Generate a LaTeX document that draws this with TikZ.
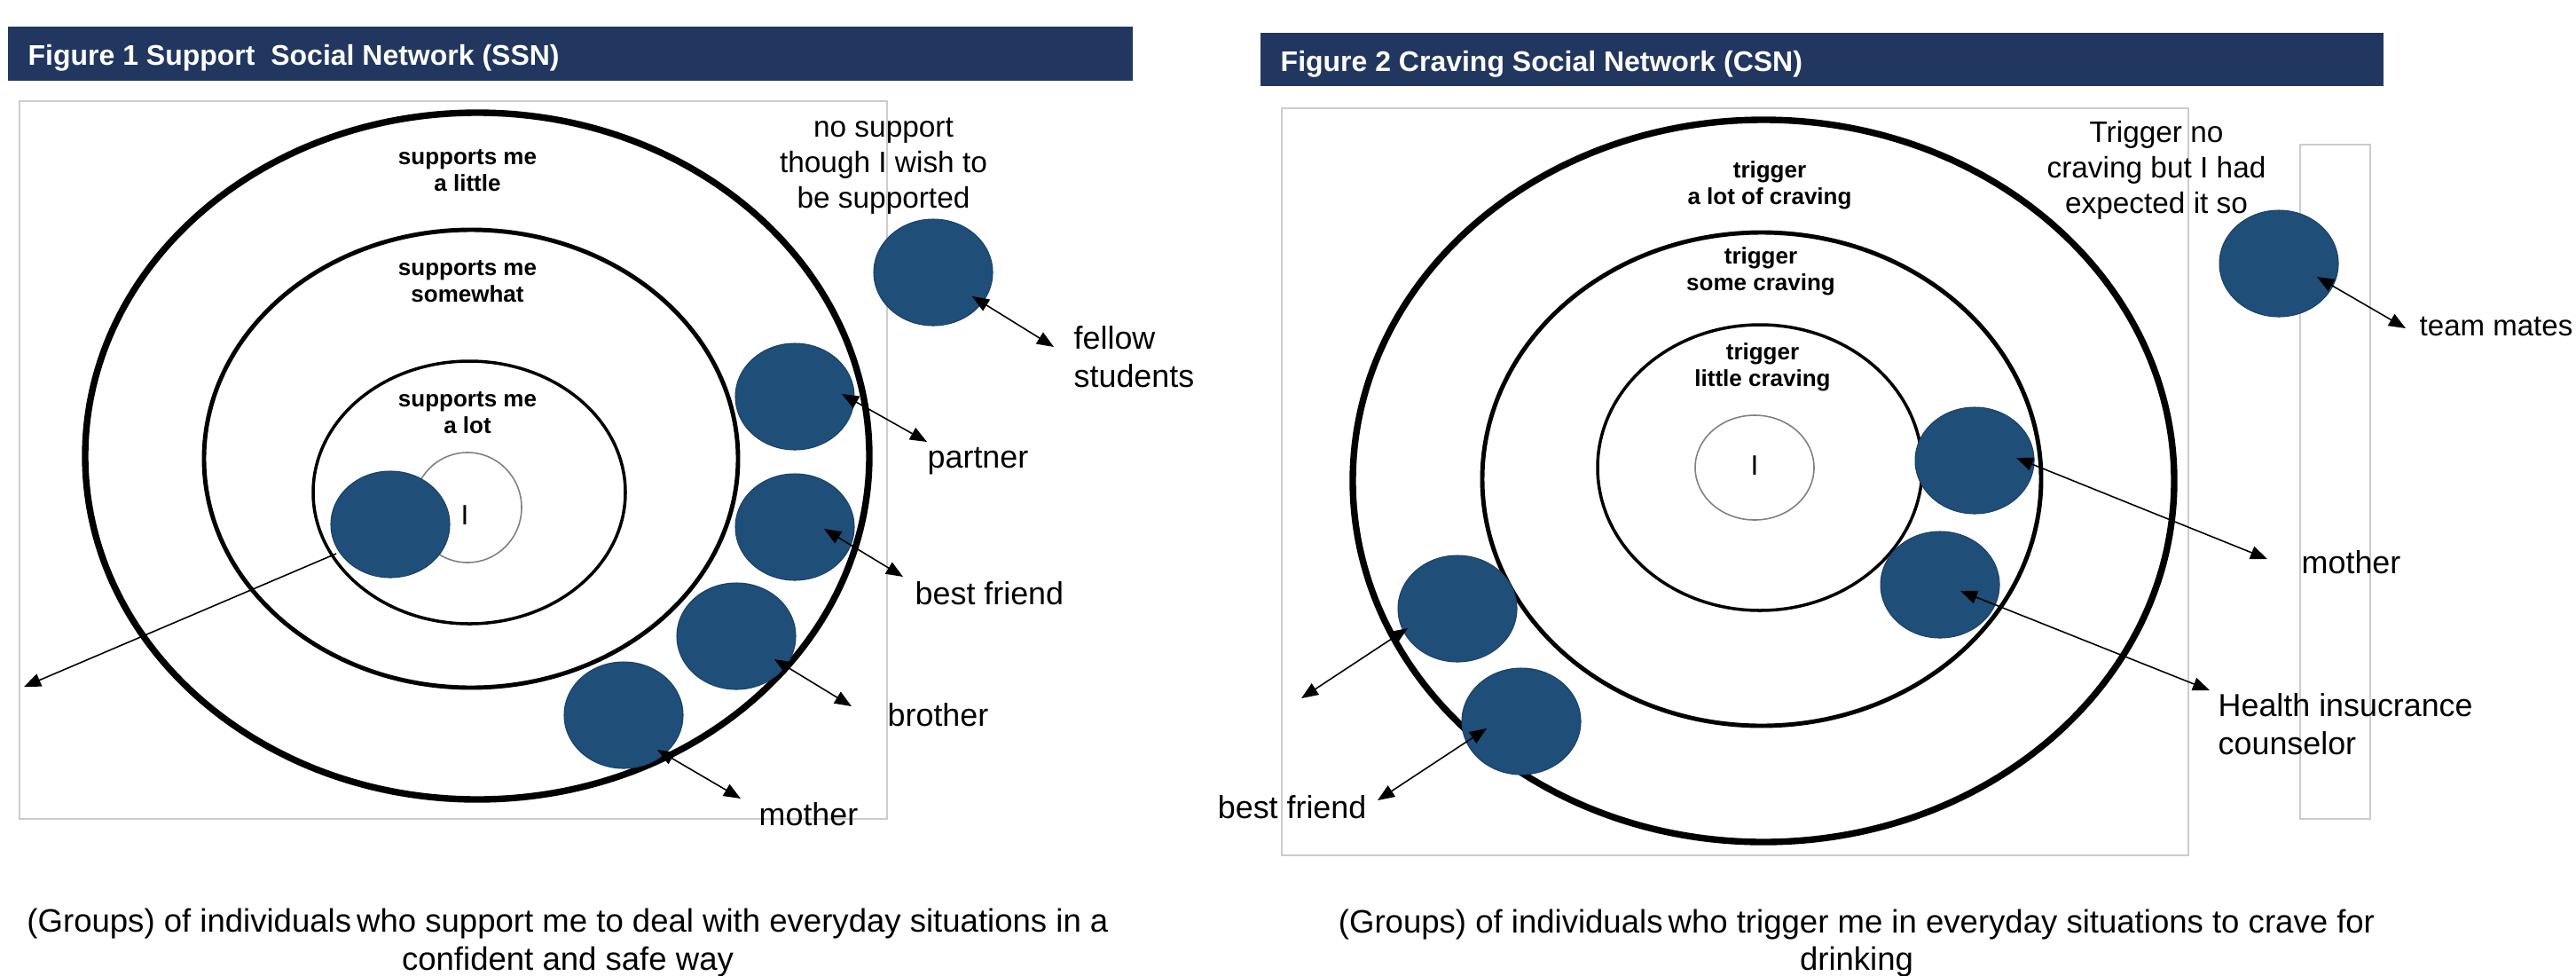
\documentclass[tikz,border=0pt]{standalone}
\usepackage{fontspec}
\setmainfont{Liberation Sans}
\usetikzlibrary{shapes.geometric,arrows.meta}
\definecolor{barblue}{HTML}{22375F}
\definecolor{discblue}{HTML}{1F4E79}

\tikzset{
  disc/.style={ellipse, fill=discblue, draw=discblue!85!black, line width=0.3pt,
    minimum width=1.34cm, minimum height=1.20cm, inner sep=0pt},
  link/.style={line width=0.45pt, >={Triangle[length=1.9mm,width=1.5mm]}},
  lbl/.style={font=\fontsize{10.2}{12.2}\selectfont, inner sep=0pt, align=left},
  note/.style={font=\fontsize{9.5}{11.4}\selectfont, inner sep=0pt, align=center},
  zone/.style={font=\bfseries\fontsize{7.4}{8.6}\selectfont, inner sep=0pt, align=center},
  caption/.style={font=\fontsize{10.4}{12.2}\selectfont, inner sep=0pt, align=center},
  titletext/.style={font=\bfseries\fontsize{9.1}{11}\selectfont, text=white, inner sep=0pt, anchor=base west},
  frame/.style={draw=black!20, line width=0.4pt},
}

\begin{document}
\begin{tikzpicture}

  \fill[white] (0,0) rectangle (29.04,-10.99);
  \useasboundingbox (0,0) rectangle (29.04,-10.99);

  % Title bars
  \fill[barblue] (0.09,-0.30) rectangle (12.77,-0.91);
  \node[titletext] (T1) at (0.31,-0.73) {Figure 1 Support~ Social Network (SSN)};
  \fill[barblue] (14.21,-0.37) rectangle (26.87,-0.97);
  \node[titletext] (T2) at (14.43,-0.80) {Figure 2 Craving Social Network (CSN)};

  % Frames
  \draw[frame] (0.22,-1.14) rectangle (10.00,-9.23);
  \draw[frame] (14.45,-1.22) rectangle (24.67,-9.64);
  \draw[frame] (25.93,-1.63) rectangle (26.72,-9.23);

  % Rings, figure 1
  \draw[line width=2.1pt] (5.38,-5.14) ellipse [x radius=4.42, y radius=3.87];
  \draw[line width=1.4pt] (5.31,-5.17) ellipse [x radius=3.01, y radius=2.58];
  \draw[line width=1.0pt] (5.29,-5.55) ellipse [x radius=1.76, y radius=1.48];
  \draw[gray, line width=0.45pt] (5.27,-5.72) ellipse [x radius=0.61, y radius=0.62];

  % Rings, figure 2
  \draw[line width=2.1pt] (19.88,-5.42) ellipse [x radius=4.63, y radius=4.07];
  \draw[line width=1.4pt] (19.86,-5.40) ellipse [x radius=3.15, y radius=2.78];
  \draw[line width=1.0pt] (19.84,-5.27) ellipse [x radius=1.83, y radius=1.61];
  \draw[gray, line width=0.45pt] (19.78,-5.27) ellipse [x radius=0.67, y radius=0.59];

  % Zone labels
  \node[zone] (Z1) at (5.27,-1.92) {supports me\\a little};
  \node[zone] (Z2) at (5.27,-3.175) {supports me\\somewhat};
  \node[zone] (Z3) at (5.27,-4.655) {supports me\\a lot};
  \node[zone] (Z4) at (19.95,-2.09) {trigger\\a lot of craving};
  \node[zone] (Z5) at (19.85,-3.06) {trigger\\some craving};
  \node[zone] (Z6) at (19.87,-4.14) {trigger\\little craving};
  \node[font=\fontsize{9}{10}\selectfont] (I1) at (5.24,-5.81) {I};
  \node[font=\fontsize{9}{10}\selectfont] (I2) at (19.78,-5.25) {I};

  % Define nodes
  \node[disc] (G) at (4.40,-5.91) {};
  \node[disc] (FS) at (10.52,-3.07) {};
  \node[disc] (PA) at (8.96,-4.47) {};
  \node[disc] (BF) at (8.96,-5.94) {};
  \node[disc] (BR) at (8.30,-7.17) {};
  \node[disc] (MO) at (7.03,-8.06) {};
  \node[disc] (TM) at (25.69,-2.97) {};
  \node[disc] (MC) at (22.26,-5.19) {};
  \node[disc] (HC) at (21.87,-6.59) {};
  \node[disc] (F1) at (16.43,-6.86) {};
  \node[disc] (F2) at (17.15,-8.13) {};

  % Arrow ends
  \coordinate (GA) at (3.79,-6.24);   \coordinate (GB) at (0.27,-7.74);
  \coordinate (FSA) at (10.96,-3.34); \coordinate (FSB) at (11.88,-3.91);
  \coordinate (PAA) at (9.49,-4.44);  \coordinate (PAB) at (10.45,-4.98);
  \coordinate (BFA) at (9.29,-5.96);  \coordinate (BFB) at (10.18,-6.50);
  \coordinate (BRA) at (8.73,-7.43);  \coordinate (BRB) at (9.60,-7.96);
  \coordinate (MOA) at (7.41,-8.45);  \coordinate (MOB) at (8.35,-9.00);
  \coordinate (TMA) at (26.12,-3.12); \coordinate (TMB) at (27.12,-3.70);
  \coordinate (MCA) at (22.73,-5.16); \coordinate (MCB) at (25.56,-6.30);
  \coordinate (HCA) at (22.10,-6.66); \coordinate (HCB) at (24.91,-7.78);
  \coordinate (F1A) at (15.87,-7.08); \coordinate (F1B) at (14.67,-7.87);
  \coordinate (F2A) at (16.76,-8.21); \coordinate (F2B) at (15.53,-9.02);

  % Connect the nodes
  \draw[link, ->] (GA) -- (GB);
  \draw[link, <->] (FSA) -- (FSB);
  \draw[link, <->] (PAA) -- (PAB);
  \draw[link, <->] (BFA) -- (BFB);
  \draw[link, <->] (BRA) -- (BRB);
  \draw[link, <->] (MOA) -- (MOB);
  \draw[link, <->] (TMA) -- (TMB);
  \draw[link, <->] (MCA) -- (MCB);
  \draw[link, <->] (HCA) -- (HCB);
  \draw[link, <->] (F1A) -- (F1B);
  \draw[link, <->] (F2A) -- (F2B);

  % Labels
  \node[note] (N1) at (9.96,-1.87) {no support\\though I wish to\\be supported};
  \node[lbl, anchor=west] (FSL) at (12.10,-4.02) {fellow\\students};
  \node[lbl, anchor=base west] (PAL) at (10.45,-5.27) {partner};
  \node[lbl, anchor=base west] (BFL) at (10.31,-6.81) {best friend};
  \node[lbl, anchor=base west] (BRL) at (10.00,-8.18) {brother};
  \node[lbl, anchor=base west] (MOL) at (8.55,-9.30) {mother};
  \node[note] (N2) at (24.31,-1.92) {Trigger no\\craving but I had\\expected it so};
  \node[lbl, font=\fontsize{9.4}{11}\selectfont, anchor=base west] (TML) at (27.27,-3.78) {team mates};
  \node[lbl, anchor=base west] (MCL) at (25.94,-6.46) {mother};
  \node[lbl, anchor=west] (HCL) at (25.00,-8.165) {Health insucrance\\counselor};
  \node[lbl, anchor=base east] (FL) at (15.41,-9.22) {best friend};

  % Captions
  \node[caption] (C1) at (6.40,-10.625) {(Groups) of individuals\,who support me to deal with everyday situations in a\\confident and safe way};
  \node[caption] (C2) at (20.93,-10.63) {(Groups) of individuals\,who trigger me in everyday situations to crave for\\drinking};

\end{tikzpicture}
\end{document}
